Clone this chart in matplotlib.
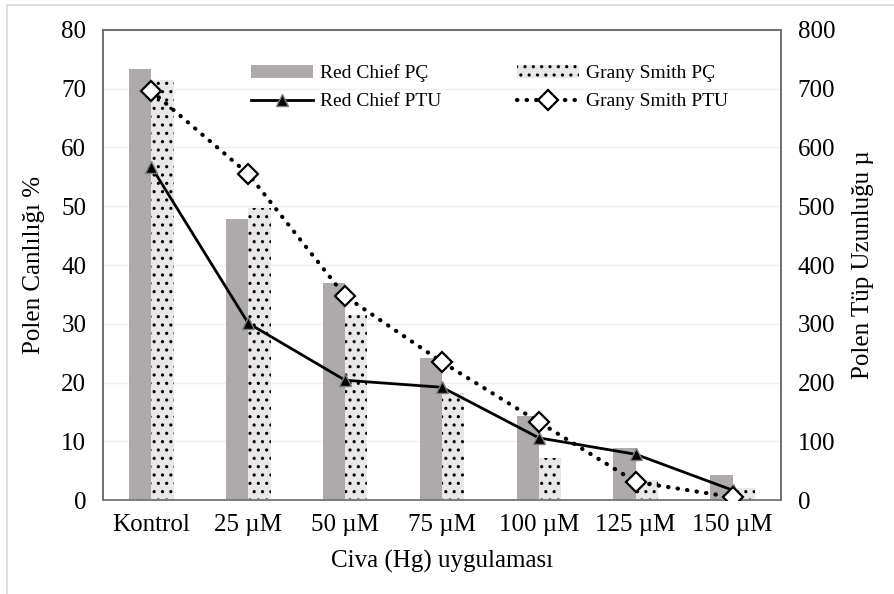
import numpy as np
import matplotlib

matplotlib.use('Agg')
from matplotlib import pyplot as plt
from matplotlib.patches import Rectangle

# data
kategoriler = ['Kontrol', '25 µM', '50 µM', '75 µM', '100 µM', '125 µM', '150 µM']
red_chief_pc = [73.4, 47.8, 36.9, 24.2, 14.3, 8.9, 4.3]
grany_smith_pc = [71.5, 49.7, 31.5, 18.2, 7.1, 3.4, 2.0]
red_chief_ptu = [567, 301, 204, 192, 106, 78, 17]
grany_smith_ptu = [696, 555, 347, 235, 133, 31, 5]

plt.rcParams['font.family'] = ['Liberation Serif', 'DejaVu Serif']
plt.rcParams['hatch.linewidth'] = 1.1

fig = plt.figure(figsize=(8.95, 5.94), dpi=100)
ax = fig.add_axes([0.115, 0.158, 0.7576, 0.7917])
ax2 = ax.twinx()

x = np.arange(len(kategoriler))
w = 0.23
b1 = ax.bar(x - w / 2, red_chief_pc, w, color='#aeaaaa', linewidth=0, label='Red Chief PÇ', zorder=2)
b2 = ax.bar(x + w / 2, grany_smith_pc, w, color='#e9e8e8', edgecolor='black', hatch='..',
            linewidth=0, label='Grany Smith PÇ', zorder=2)

l1, = ax2.plot(x, red_chief_ptu, color='black', lw=2, marker='^', ms=8,
               mfc='black', mec='#7f7f7f', mew=1, label='Red Chief PTU', zorder=3)
l2, = ax2.plot(x, grany_smith_ptu, color='black', lw=3, ls=(0, (0.1, 2.2)),
               dash_capstyle='round', marker='D', ms=10, mfc='white', mec='black', mew=1.6,
               label='Grany Smith PTU', zorder=4)

ax.set_ylim(0, 80)
ax.set_yticks(range(0, 81, 10))
ax2.set_ylim(0, 800)
ax2.set_yticks(range(0, 801, 100))
ax.set_xlim(-0.5, len(kategoriler) - 0.5)
ax.set_xticks(x)
ax.set_xticklabels(kategoriler)

ax.yaxis.grid(True, color='#efefef', lw=1, zorder=0)
ax.set_axisbelow(True)
for a in (ax, ax2):
    a.tick_params(length=0, labelsize=18, pad=12)
    for s in a.spines.values():
        s.set_color('#6f6f6f')
        s.set_linewidth(1.2)
ax.tick_params(axis='x', pad=10)
ax.spines['bottom'].set_color('#d0d0d0')

ax.set_ylabel('Polen Canlılığı %', fontsize=18, labelpad=12)
ax2.set_ylabel('Polen Tüp Uzunluğu µ', fontsize=18, labelpad=12)
ax.set_xlabel('Civa (Hg) uygulaması', fontsize=18, labelpad=10)

# legend fills column-wise: order gives row 1 = PÇ, row 2 = PTU
ax2.legend([b1, l1, b2, l2], ['Red Chief PÇ', 'Red Chief PTU', 'Grany Smith PÇ', 'Grany Smith PTU'],
           ncol=2, loc='upper left', bbox_to_anchor=(0.192, 0.964), frameon=False, fontsize=14,
           handlelength=3.2, columnspacing=3.9, labelspacing=0.55, handletextpad=0.35)

fig.patches.append(Rectangle((7 / 895, -0.1), 1.2, 1.1 - 5 / 594, transform=fig.transFigure,
                             fill=False, edgecolor='#d9d9d9', lw=1.2))

plt.savefig('out.png', dpi=100)
